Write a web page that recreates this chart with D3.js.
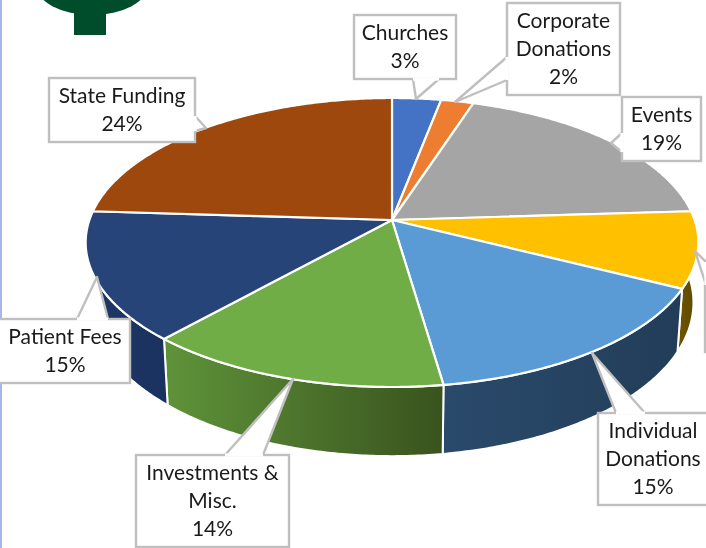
<!DOCTYPE html>
<html><head><meta charset="utf-8">
<script src="https://cdn.jsdelivr.net/npm/d3@7"></script>
<style>html,body{margin:0;padding:0;background:#fff;overflow:hidden}svg{display:block;filter:blur(0.45px)}text{font-family:Lato,"Open Sans",sans-serif;font-size:21px;fill:#1a1a1a;text-anchor:middle}</style>
</head><body><svg id="c" width="706" height="548"></svg>
<script>
const categories = ["Churches","Corporate Donations","Events","Other","Individual Donations","Investments & Misc.","Patient Fees","State Funding"];
const values = [3.0,2.0,19.0,8.5,15.2,13.9,14.4,24.0];
const labelLines = [["Churches","3%"],["Corporate","Donations","2%"],["Events","19%"],[],["Individual","Donations","15%"],["Investments &","Misc.","14%"],["Patient Fees","15%"],["State Funding","24%"]];
const topColors = ["#4472c4","#ed7d31","#a5a5a5","#ffc000","#5b9bd5","#70ad47","#264478","#9e480e"];
const sideFrom = ["#2f5597","#a5561f","#737373","#6b5200","#2a4a6c","#5f9339","#1e3766","#6e320a"];
const sideTo   = ["#2f5597","#a5561f","#737373","#5c4700","#223d58","#39531e","#1b3260","#6e320a"];

// callout layout: box [x,y,w,h], text centre x, pointer as base A, tip, base B
const callouts = [
 {i:0,box:[354,15,102,64],ptr:[[413,79],[416,99],[439,79]]},
 {i:1,box:[507,3,113,92],ptr:[[507,57],[455,102],[507,80]]},
 {i:2,box:[622,97,79,64],ptr:[[622,133],[611,143],[622,152]]},
 {i:3,box:[705,285,40,67],ptr:[[706,262],[695,251],[706,285]]},
 {i:4,box:[598,413,120,92],tx:653,ptr:[[616,413],[592,353],[645,413]]},
 {i:5,box:[136,455,153,92],ptr:[[225,455],[293,379],[263,455]]},
 {i:6,box:[-10,319,140,64],tx:65,ptr:[[77,319],[97,277],[108,319]]},
 {i:7,box:[49,78,146,64],ptr:[[195,116],[206,128],[195,131]]}
];

const svg = d3.select("#c");
const H=548;
const cx=392,cy=220,a=302.6,b=141,k=0.1557;
// perspective projection of the unit disc
const proj = t=>{const u=Math.sin(t),v=Math.cos(t),d=1+k*v;return [cx+a*u/d,cy-b*v/d];};
const lower = ([x,y])=>[cx+(x-cx)*0.984, cy+(y-cy)*1.0625+58.7];

const arcs = d3.pie().sort(null).value(d=>d)(values);
const angles = s=>{const n=Math.max(2,Math.ceil((s.endAngle-s.startAngle)/0.01));return d3.range(n+1).map(i=>s.startAngle+(s.endAngle-s.startAngle)*i/n);};
const line = d3.line().curve(d3.curveLinear);

const defs = svg.append("defs");

// left page stripe and cropped logo at the top
svg.append("rect").attr("x",0).attr("y",0).attr("width",2).attr("height",H).attr("fill","#a9b5e6");
svg.append("ellipse").attr("cx",92).attr("cy",-15).attr("rx",56).attr("ry",30).attr("fill","#004d2c");
svg.append("rect").attr("x",74).attr("y",5).attr("width",32).attr("height",30).attr("fill","#004d2c");

// side wall
arcs.forEach((s,i)=>{
  const up = angles(s).map(proj);
  const lo = up.map(lower).reverse();
  const xs = up.map(p=>p[0]);
  const g = defs.append("linearGradient").attr("id","side"+i).attr("gradientUnits","userSpaceOnUse")
    .attr("x1",d3.min(xs)).attr("x2",d3.max(xs)).attr("y1",0).attr("y2",0);
  g.append("stop").attr("offset",0).attr("stop-color",sideFrom[i]);
  g.append("stop").attr("offset",1).attr("stop-color",sideTo[i]);
  svg.append("path").attr("d",line(up.concat(lo))+"Z").attr("fill",`url(#side${i})`)
    .attr("stroke","#fff").attr("stroke-width",2).attr("stroke-linejoin","round");
});

// top face
arcs.forEach((s,i)=>{
  const pts = [[cx,cy]].concat(angles(s).map(proj));
  svg.append("path").attr("d",line(pts)+"Z").attr("fill",topColors[i])
    .attr("stroke","#fff").attr("stroke-width",2.2).attr("stroke-linejoin","round");
});

// callouts
callouts.forEach(c=>{
  const [x,y,w,h]=c.box;
  const g=svg.append("g");
  g.append("rect").attr("x",x).attr("y",y).attr("width",w).attr("height",h)
    .attr("fill","#fff").attr("stroke","#bfbfbf").attr("stroke-width",2.4);
  g.append("path").attr("d",line(c.ptr)).attr("fill","#fff").attr("stroke","#bfbfbf").attr("stroke-width",2.4).attr("stroke-linejoin","round");
  // hide box edge inside the pointer base
  g.append("path").attr("d",line([c.ptr[0],c.ptr[2]])).attr("stroke","#fff").attr("stroke-width",3.2);
  const lines=labelLines[c.i];
  const lh=28, x0=c.tx??(x+w/2), y0=y+h/2-(lines.length-1)*lh/2+7;
  lines.forEach((t,j)=>g.append("text").attr("x",x0).attr("y",y0+j*lh).text(t));
});
</script></body></html>
